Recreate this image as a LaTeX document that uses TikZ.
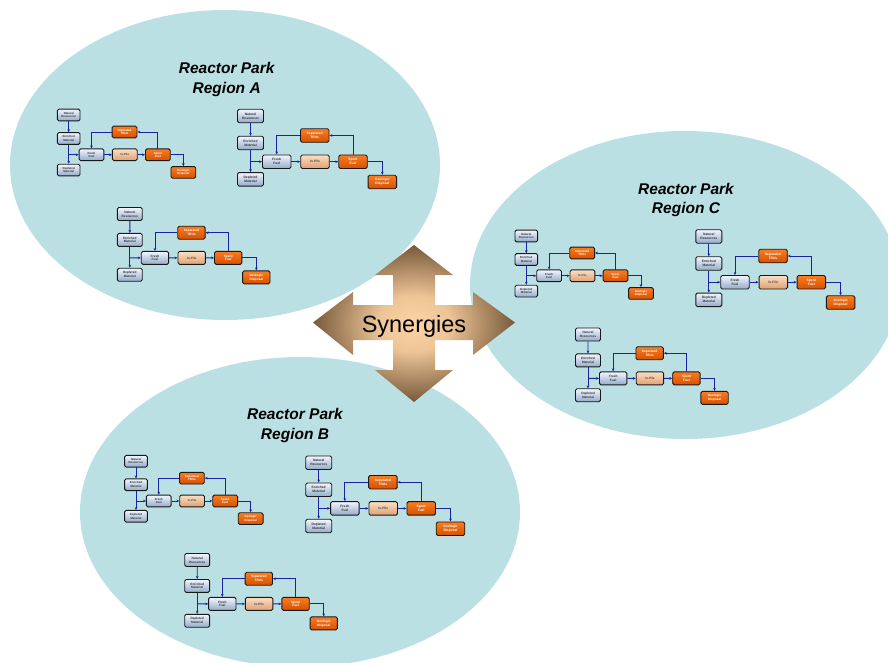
\documentclass[tikz,border=0pt]{standalone}
\usepackage{fontspec}
\setmainfont{Liberation Sans}
\usetikzlibrary{arrows.meta}

\definecolor{parkblue}{RGB}{187,224,227}
\definecolor{flowblue}{RGB}{25,35,160}
\definecolor{peach}{RGB}{253,212,164}
\definecolor{umber}{RGB}{112,82,52}

\pgfdeclareradialshading{synergy}{\pgfpoint{0bp}{0bp}}{color(0bp)=(peach); color(9bp)=(peach!88!umber); color(26bp)=(umber); color(50bp)=(umber)}

\tikzset{
  box/.style={draw=black!90, line width=.9pt, rounded corners=1.5pt, transform shape,
    minimum width=26pt, minimum height=13.5pt, inner sep=0pt, align=center,
    font=\fontsize{3.3}{4}\selectfont\bfseries},
  bluebox/.style={box, top color=blue!4, bottom color={rgb,255:red,145;green,172;blue,200}, text=black!80},
  orangebox/.style={box, top color={rgb,255:red,248;green,125;blue,35}, bottom color={rgb,255:red,215;green,80;blue,0}, text=white},
  tanbox/.style={box, top color={rgb,255:red,252;green,222;blue,195}, bottom color={rgb,255:red,222;green,160;blue,115}, text=black!70},
  wide/.style={minimum width=28.5pt},
  flow/.style={draw=flowblue, line width=.9pt, -{Stealth[length=3pt,width=2.6pt]}},
  parktitle/.style={align=center, font=\fontsize{15.5}{19.5}\selectfont\bfseries\itshape},
  % one fuel cycle
  pics/fuelcycle/.style={code={
    \node[bluebox] (-nat) at (0,0) {Natural\\Resources};
    \node[bluebox] (-enr) at (0,-27) {Enriched\\Material};
    \node[bluebox] (-dep) at (0,-63.3) {Depleted\\Material};
    \node[bluebox, wide] (-fresh) at (26.2,-45.7) {Fresh\\Fuel};
    \node[tanbox, wide] (-pile) at (64.5,-45.7) {In-Pile};
    \node[orangebox, wide] (-spent) at (102.5,-45.7) {Spent\\Fuel};
    \node[orangebox, wide] (-sep) at (64.2,-19.5) {Separated\\TRUs};
    \node[orangebox, wide] (-geo) at (131.8,-66) {Geologic\\Disposal};
    \coordinate (-tee) at (0,-45.7);
    \draw[flow] (-nat) -- (-enr);
    \draw[flow] (-enr) -- (-dep);
    \draw[flow] (-tee) -- (-fresh);
    \draw[flow] (-fresh) -- (-pile);
    \draw[flow] (-pile) -- (-spent);
    \draw[flow] (-spent.north) |- (-sep.east);
    \draw[flow] (-sep.west) -| (-fresh.north);
    \draw[flow] (-spent.east) -| (-geo.north);
  }}
}

\begin{document}
\begin{tikzpicture}[x=1pt, y=1pt]
  \useasboundingbox (0,0) rectangle (888,-662);
  \clip (0,0) rectangle (888,-662);

  % Reactor parks
  \fill[parkblue] (225,-165) ellipse [x radius=215, y radius=155];
  \fill[parkblue] (685,-285) ellipse [x radius=215, y radius=154];
  \fill[parkblue] (300,-512) ellipse [x radius=220, y radius=155];

  \node[parktitle] (titleA) at (226.7,-79.5) {Reactor Park\\Region A};
  \node[parktitle] (titleC) at (686,-200) {Reactor Park\\Region C};
  \node[parktitle] (titleB) at (295,-425.5) {Reactor Park\\Region B};

  % Fuel cycles
  \pic[scale=.87] (a1) at (68.7,-115) {fuelcycle};
  \pic (a2) at (250.5,-116) {fuelcycle};
  \pic[scale=.96] (a3) at (129.8,-214) {fuelcycle};
  \pic[scale=.87] (c1) at (526.3,-236) {fuelcycle};
  \pic (c2) at (708.8,-236.5) {fuelcycle};
  \pic[scale=.96] (c3) at (588,-334.5) {fuelcycle};
  \pic[scale=.87] (b1) at (136,-461.2) {fuelcycle};
  \pic (b2) at (318.7,-462.7) {fuelcycle};
  \pic[scale=.96] (b3) at (197.2,-560) {fuelcycle};

  % Four-way arrow
  \shade[shading=synergy]
    (313,-322.5) -- (353,-292) -- (353,-305) -- (393,-305) -- (393,-275) -- (375,-275)
    -- (414,-245) -- (453,-275) -- (435,-275) -- (435,-305) -- (473,-305) -- (473,-292)
    -- (515,-322.5) -- (473,-355) -- (473,-340) -- (435,-340) -- (435,-370) -- (453,-370)
    -- (414,-402) -- (375,-370) -- (393,-370) -- (393,-340) -- (353,-340) -- (353,-355) -- cycle;
  \node[font=\fontsize{23.5}{28}\selectfont] (syn) at (414,-326) {Synergies};
\end{tikzpicture}
\end{document}
